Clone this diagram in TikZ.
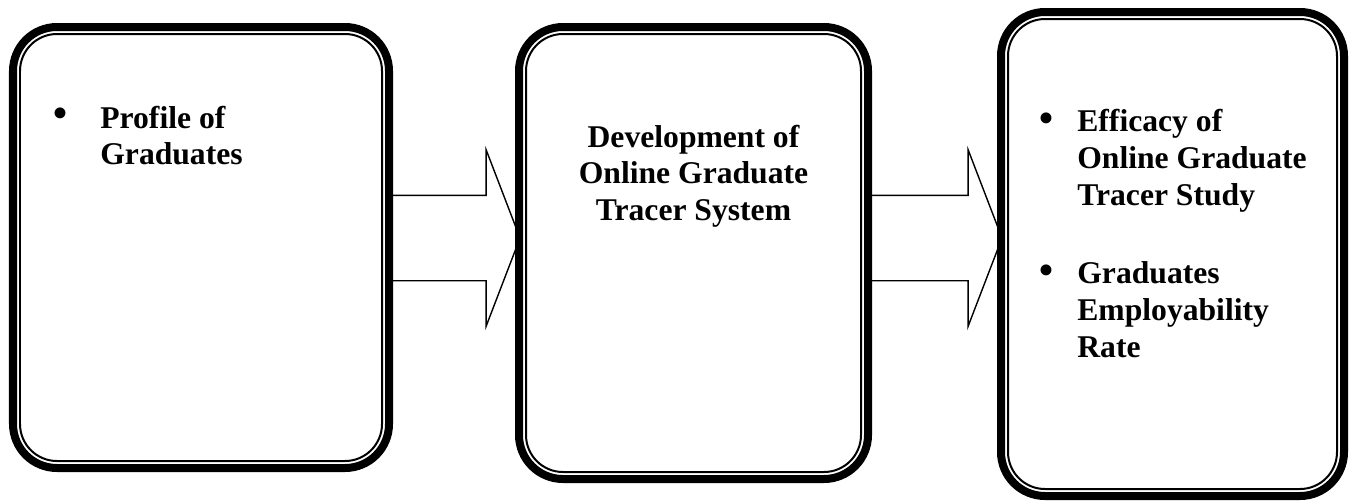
\documentclass[tikz,border=0pt]{standalone}
\usepackage{fontspec}
\setmainfont{Liberation Serif}
\usetikzlibrary{shapes.arrows}
\usetikzlibrary{backgrounds}

\begin{document}
\begin{tikzpicture}[
	stagebox/.style={draw,line width=0.16cm,rounded corners=0.88cm,fill=white,inner sep=0pt,outer sep=0pt},
	innerline/.style={line width=0.04cm,rounded corners=0.74cm},
	flow/.style={single arrow,draw,fill=white,line width=0.8pt,inner xsep=0pt,inner ysep=0.84cm,outer sep=0pt,
		single arrow head extend=0.91cm,single arrow tip angle=138,anchor=tail},
	txt/.style={inner sep=0pt,font=\fontsize{18}{20.9}\selectfont\bfseries},
	dot/.style={inner sep=0pt,font=\fontsize{26}{26}\selectfont}
]
	\useasboundingbox (0,0) rectangle (27.04,10.06);
	
	%boxes
	\node[stagebox,minimum width=7.52cm,minimum height=8.82cm] (prof) at (4.02,5.11) {};	%input
	\node[stagebox,minimum width=6.98cm,minimum height=9.04cm] (dev)  at (13.87,5.0) {};	%process
	\node[stagebox,minimum width=6.86cm,minimum height=9.68cm] (eff)  at (23.45,4.98) {};	%output
	\foreach \b in {prof,dev,eff}
		\draw[innerline] ([shift={(0.14,-0.14)}]\b.north west) rectangle ([shift={(-0.14,0.14)}]\b.south east);
	
	%arrows
	\coordinate (mid) at (0,5.3);
	\begin{pgfonlayer}{background}
		\node[flow,minimum height=2.62cm] (a1) at (prof.east |- mid) {};
		\node[flow,minimum height=2.68cm] (a2) at (dev.east |- mid) {};
	\end{pgfonlayer}
	
	%text
	\node[dot] (b1) at (1.2,7.69) {•};
	\node[txt,anchor=north west,align=left] (t1) at (2.0,7.95) {Profile of\\Graduates};
	%
	\node[txt,anchor=north,align=center] (t2) at (13.87,7.57) {Development of\\Online Graduate\\Tracer System};
	%
	\node[dot] (b2) at (20.92,7.6) {•};
	\node[txt,anchor=north west,align=left] (t3) at (21.54,7.88) {Efficacy of\\Online Graduate\\Tracer Study};
	\node[dot] (b3) at (20.92,4.55) {•};
	\node[txt,anchor=north west,align=left] (t4) at (21.54,4.83) {Graduates\\Employability\\Rate};
\end{tikzpicture}
\end{document}
